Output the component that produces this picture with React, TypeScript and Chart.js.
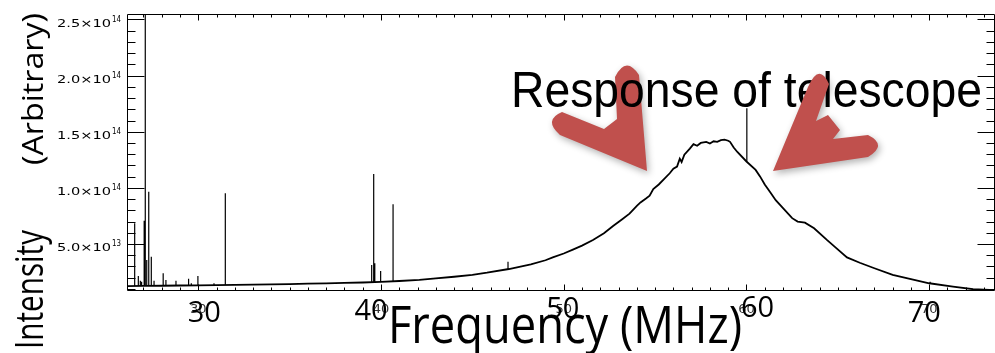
import React, { useEffect, useRef } from "react";
import { Chart, registerables } from "chart.js";

Chart.register(...registerables);

// ---- Data (intensity in units of 1e13, frequency in MHz) ----
const continuumFreq = [
  26.1, 27.0, 28.0, 29.0, 30.0, 31.0, 32.0, 33.0, 34.0, 35.0, 36.0, 37.0, 38.0, 39.0, 40.0, 41.0,
  42.1, 43.0, 44.0, 45.0, 45.8, 47.0, 48.2, 49.0, 49.4, 50.0, 50.5, 51.0, 51.6, 52.2, 52.7, 53.2,
  53.6, 54.0, 54.2, 54.5, 54.7, 54.9, 55.2, 55.5, 55.8, 56.0, 56.2, 56.35, 56.45, 56.6, 56.9, 57.1,
  57.3, 57.5, 57.8, 58.0, 58.2, 58.4, 58.6, 58.8, 59.0, 59.1, 59.3, 59.5, 60.0, 60.5, 60.75, 61.0,
  61.3, 61.6, 62.0, 62.5, 62.8, 63.2, 63.7, 64.4, 64.9, 65.5, 66.2, 67.0, 68.0, 69.0, 70.0, 71.3,
  72.4, 73.6,
];
const continuumIntensity = [
  1.25, 1.27, 1.28, 1.3, 1.32, 1.34, 1.36, 1.38, 1.4, 1.43, 1.46, 1.49, 1.53, 1.57, 1.62, 1.7,
  1.8, 1.93, 2.08, 2.25, 2.44, 2.77, 3.19, 3.55, 3.8, 4.15, 4.5, 4.85, 5.36, 5.95, 6.6, 7.2,
  7.7, 8.4, 8.7, 9.05, 9.3, 9.9, 10.3, 10.8, 11.3, 11.7, 11.9, 12.6, 12.3, 12.95, 13.5, 13.9,
  13.75, 14.0, 14.1, 13.95, 14.15, 14.1, 14.25, 14.3, 14.2, 14.1, 13.6, 13.2, 12.35, 11.6, 11.0, 10.3,
  9.6, 8.9, 8.2, 7.3, 7.0, 6.9, 6.4, 5.36, 4.65, 3.8, 3.33, 2.84, 2.24, 1.86, 1.5, 1.2,
  0.97, 0.88,
];

const spikeFreq = [
  26.52, 26.72, 26.83, 26.9, 27.04, 27.1, 27.18, 27.29, 27.43, 27.58, 28.08, 28.23, 28.78,
  29.47, 29.62, 29.98, 30.86, 31.48, 39.49, 39.6, 39.66, 39.98, 40.66, 46.95, 60.02, 70.05,
];
const spikeBase = [
  1.26, 1.26, 1.26, 1.26, 1.27, 1.27, 1.27, 1.27, 1.27, 1.27, 1.28, 1.28, 1.29,
  1.31, 1.31, 1.32, 1.34, 1.35, 1.6, 1.6, 1.6, 1.62, 1.67, 2.72, 12.35, 1.5,
];
const spikePeak = [
  6.84, 2.15, 1.73, 1.64, 7.08, 30.0, 3.57, 9.66, 3.87, 1.73, 2.39, 1.79, 1.73,
  1.91, 1.5, 2.15, 1.5, 9.52, 3.13, 11.24, 3.28, 2.59, 8.54, 3.42, 17.09, 1.64,
];

const xTickValues = [30, 40, 50, 60, 70];
const xTickLabels = ["30", "40", "50", "60", "70"];
const yTickValues = [5, 10, 15, 20, 25];
const yTickMantissa = ["5.0×10", "1.0×10", "1.5×10", "2.0×10", "2.5×10"];
const yTickExponent = ["13", "14", "14", "14", "14"];

const annotationText = "Response of telescope";
const xTitle = "Frequency (MHz)";
const yTitleMain = "Intensity";
const yTitleSub = "(Arbitrary)";

const X_MIN = 26.1;
const X_MAX = 73.6;
const Y_MIN = 0.9;
const Y_MAX = 25.49;

// ---- drawing helpers ----
function fitText(
  ctx: CanvasRenderingContext2D,
  text: string,
  font: string,
  x: number,
  y: number,
  width: number,
  rotate = false,
  color = "#000"
) {
  ctx.save();
  ctx.font = font;
  ctx.fillStyle = color;
  const w = ctx.measureText(text).width;
  const sx = width / w;
  ctx.translate(x, y);
  if (rotate) ctx.rotate(-Math.PI / 2);
  ctx.scale(sx, 1);
  ctx.textAlign = "left";
  ctx.textBaseline = "alphabetic";
  ctx.fillText(text, 0, 0);
  ctx.restore();
}

const RED = "#C0504D";

function drawLeftArrow(ctx: CanvasRenderingContext2D) {
  ctx.save();
  ctx.fillStyle = RED;
  ctx.shadowColor = "rgba(0,0,0,0.3)";
  ctx.shadowBlur = 7;
  ctx.shadowOffsetX = 2;
  ctx.shadowOffsetY = 3;
  ctx.beginPath();
  ctx.moveTo(647, 171);
  ctx.lineTo(560, 135);
  ctx.quadraticCurveTo(543, 120, 562, 112);
  ctx.lineTo(604, 129);
  ctx.lineTo(617, 119);
  ctx.lineTo(615, 77);
  ctx.quadraticCurveTo(626, 55, 639, 75);
  ctx.closePath();
  ctx.fill();
  ctx.restore();
}

function drawRightArrow(ctx: CanvasRenderingContext2D) {
  ctx.save();
  ctx.fillStyle = RED;
  ctx.shadowColor = "rgba(0,0,0,0.3)";
  ctx.shadowBlur = 7;
  ctx.shadowOffsetX = 2;
  ctx.shadowOffsetY = 3;
  ctx.beginPath();
  ctx.moveTo(773, 171);
  ctx.lineTo(808, 87);
  ctx.quadraticCurveTo(819, 62, 829, 84);
  ctx.lineTo(816, 121);
  ctx.lineTo(828, 115);
  ctx.lineTo(840, 130);
  ctx.lineTo(833, 139);
  ctx.lineTo(868, 135);
  ctx.quadraticCurveTo(888, 145, 868, 157);
  ctx.closePath();
  ctx.fill();
  ctx.restore();
}

const framePlugin = {
  id: "frame",
  beforeDatasetsDraw(chart: any) {
    const ctx: CanvasRenderingContext2D = chart.ctx;
    const { left, right, top, bottom } = chart.chartArea;
    const xs = chart.scales.x;
    const ys = chart.scales.y;
    ctx.save();
    ctx.strokeStyle = "#000";
    ctx.lineWidth = 1;
    const L = Math.round(left) + 0.5;
    const R = Math.round(right) - 0.5;
    const T = Math.round(top) + 0.5;
    const B = Math.round(bottom) + 0.5;
    ctx.beginPath();
    ctx.moveTo(L, T);
    ctx.lineTo(R, T);
    ctx.lineTo(R, B);
    ctx.lineTo(L, B);
    ctx.closePath();
    ctx.stroke();
    // x ticks (minor every 1 MHz, major every 10)
    ctx.beginPath();
    for (let f = Math.ceil(X_MIN); f <= X_MAX; f++) {
      const len = f % 10 === 0 ? 6 : 3;
      const px = Math.round(xs.getPixelForValue(f)) + 0.5;
      ctx.moveTo(px, B);
      ctx.lineTo(px, B - len);
      ctx.moveTo(px, T);
      ctx.lineTo(px, T + len);
    }
    // y ticks (minor every 1e13, major every 5e13)
    for (let v = Math.ceil(Y_MIN); v <= Y_MAX; v++) {
      const len = v % 5 === 0 ? 17 : 8;
      const py = Math.round(ys.getPixelForValue(v)) + 0.5;
      ctx.moveTo(L, py);
      ctx.lineTo(L + len, py);
      ctx.moveTo(R, py);
      ctx.lineTo(R - len, py);
    }
    ctx.stroke();

    // small tick labels on x
    ctx.fillStyle = "#333";
    ctx.font = '13px "DejaVu Sans"';
    ctx.textAlign = "center";
    ctx.textBaseline = "alphabetic";
    xTickValues.forEach((v, i) => {
      ctx.fillText(xTickLabels[i], xs.getPixelForValue(v), 313);
    });

    // y tick labels with exponent
    yTickValues.forEach((v, i) => {
      const py = ys.getPixelForValue(v);
      fitText(ctx, yTickMantissa[i], '11px "DejaVu Sans"', 57, py + 7.5, 54, false, "#000");
      fitText(ctx, yTickExponent[i], '8px "DejaVu Sans"', 112, py + 2.5, 9, false, "#000");
    });
    ctx.restore();
  },
  afterDraw(chart: any) {
    const ctx: CanvasRenderingContext2D = chart.ctx;
    const xs = chart.scales.x;
    ctx.save();
    drawLeftArrow(ctx);
    fitText(ctx, annotationText, '50px "Liberation Sans"', 511, 107, 471);
    drawRightArrow(ctx);

    // large x labels (pasted over the plot labels)
    const dx = [6, -10, -1, 11, -5];
    const base = [322, 320, 318, 317, 322];
    ctx.fillStyle = "#000";
    ctx.font = '29px "Open Sans"';
    ctx.textAlign = "center";
    ctx.textBaseline = "alphabetic";
    xTickValues.forEach((v, i) => {
      ctx.fillText(xTickLabels[i], xs.getPixelForValue(v) + dx[i], base[i]);
    });

    // axis titles
    fitText(ctx, xTitle, '51px "Open Sans"', 388, 343, 354);
    fitText(ctx, yTitleMain, '38px "Open Sans"', 43, 349, 119, true);
    fitText(ctx, yTitleSub, '29px "Open Sans"', 43, 165, 152, true);
    ctx.restore();
  },
};

export default function App() {
  const canvasRef = useRef<HTMLCanvasElement | null>(null);

  useEffect(() => {
    if (!canvasRef.current) return;
    const continuum = continuumFreq.map((f, i) => ({ x: f, y: continuumIntensity[i] }));
    const spikes: { x: number; y: number | null }[] = [];
    spikeFreq.forEach((f, i) => {
      spikes.push({ x: f, y: spikeBase[i] });
      spikes.push({ x: f, y: spikePeak[i] });
      spikes.push({ x: f, y: null });
    });

    const chart = new Chart(canvasRef.current, {
      type: "line",
      data: {
        datasets: [
          {
            data: continuum,
            borderColor: "#000",
            borderWidth: 1.8,
            pointRadius: 0,
            tension: 0,
            fill: false,
          },
          {
            data: spikes as any,
            borderColor: "#000",
            borderWidth: 1.2,
            pointRadius: 0,
            tension: 0,
            spanGaps: false,
            fill: false,
          },
        ],
      },
      options: {
        animation: false,
        responsive: false,
        events: [],
        layout: { padding: { left: 127, top: 14, right: 0, bottom: 63 } },
        plugins: { legend: { display: false }, tooltip: { enabled: false } },
        scales: {
          x: { type: "linear", min: X_MIN, max: X_MAX, display: false },
          y: { type: "linear", min: Y_MIN, max: Y_MAX, display: false },
        },
      },
      plugins: [framePlugin],
    });
    return () => chart.destroy();
  }, []);

  return (
    <div style={{ position: "fixed", left: 0, top: 0, width: 995, height: 353, background: "#fff" }}>
      <canvas ref={canvasRef} width={995} height={353} style={{ display: "block" }} />
    </div>
  );
}
